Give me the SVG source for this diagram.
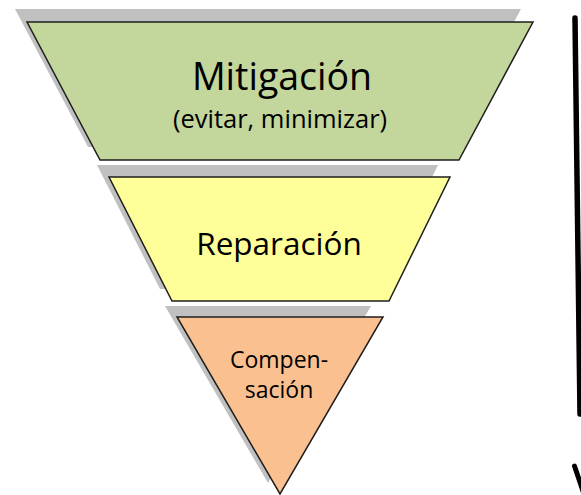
<svg xmlns="http://www.w3.org/2000/svg" width="581" height="495" viewBox="0 0 581 495">
  <style>
    .shadow { fill: #c0c0c0; stroke: none; }
    .tier { stroke: #1e1e1e; stroke-width: 1.5; stroke-linejoin: miter; }
    .lbl { font-family: "Open Sans", "Liberation Sans", Arial, sans-serif; fill: #000; text-anchor: middle; }
    .arrow { stroke: #000; fill: none; stroke-linecap: round; }
  </style>
  <rect width="581" height="495" fill="#fff"/>

  <g id="mitigacion">
    <polygon class="shadow" points="15,9 521,9 447,147 88,147"/>
    <polygon class="tier" fill="#c3d69b" points="27,22 533,22 459,160 100,160"/>
    <text class="lbl" x="282" y="90" font-size="37.5">Mitigación</text>
    <text class="lbl" x="280" y="128" font-size="25.5">(evitar, minimizar)</text>
  </g>

  <g id="reparacion">
    <polygon class="shadow" points="97,165 438,165 377,289 160,289"/>
    <polygon class="tier" fill="#ffff99" points="109,177 450,177 389,301 172,301"/>
    <text class="lbl" x="279" y="255" font-size="31.5">Reparación</text>
  </g>

  <g id="compensacion">
    <polygon class="shadow" points="165,306 371,306 268,483"/>
    <polygon class="tier" fill="#fac090" points="177,317 383,317 280,494"/>
    <text class="lbl" x="279" y="368" font-size="23">Compen-</text>
    <text class="lbl" x="279" y="398" font-size="23">sación</text>
  </g>

  <g id="connectors">
    <path class="arrow" stroke-width="5.5" stroke-linecap="butt" d="M575,18 L580,414"/>
    <path class="arrow" stroke-width="5" d="M574.5,466 L584,494"/>
  </g>
</svg>
